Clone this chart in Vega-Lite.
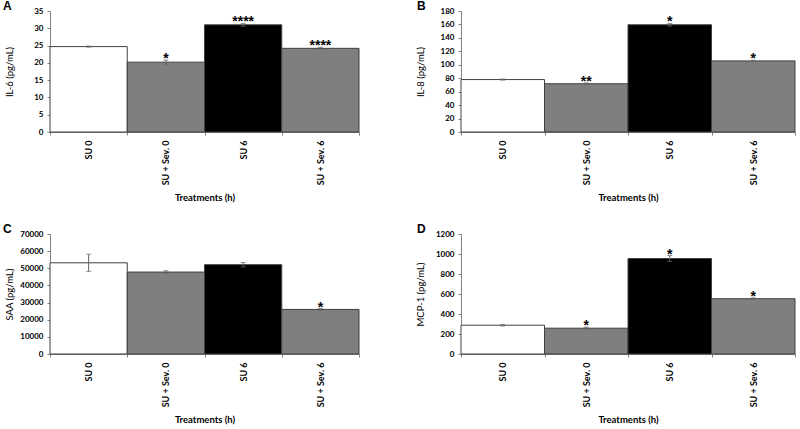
{
  "$schema": "https://vega.github.io/schema/vega-lite/v6.json",
  "padding": {"left": 3, "top": 0, "right": 0, "bottom": 0},
  "background": "white",
  "config": {
    "font": "Lato",
    "view": {"stroke": null},
    "axis": {
      "grid": false,
      "labelFont": "Lato",
      "labelFontWeight": "bold",
      "labelColor": "#000000",
      "labelOverlap": false,
      "titleFont": "Lato",
      "titleColor": "#000000",
      "domainColor": "#808080",
      "tickColor": "#808080",
      "tickSize": 3
    },
    "axisX": {
      "labelAngle": 270,
      "labelFontSize": 9,
      "labelPadding": 5,
      "tickBand": "extent",
      "titleFontWeight": "bold",
      "titleFontSize": 9.5,
      "titlePadding": 8
    },
    "axisY": {
      "labelFontSize": 8,
      "labelPadding": 4,
      "titleFontWeight": "normal",
      "titleFontSize": 9.5,
      "titlePadding": 6,
      "minExtent": 30,
      "maxExtent": 30
    },
    "title": {"font": "Liberation Sans", "fontSize": 12, "fontWeight": "bold", "anchor": "start", "frame": "group", "color": "#000000"}
  },
  "data": {
    "values": [
      {"panel": "A", "treatment": "SU 0", "value": 24.7, "lo": 24.55, "hi": 24.85, "star": ""},
      {"panel": "A", "treatment": "SU + Sev. 0", "value": 20.2, "lo": 19.6, "hi": 20.8, "star": "*"},
      {"panel": "A", "treatment": "SU 6", "value": 31.0, "lo": 30.6, "hi": 31.4, "star": "****"},
      {"panel": "A", "treatment": "SU + Sev. 6", "value": 24.2, "lo": 23.9, "hi": 24.5, "star": "****"},
      {"panel": "B", "treatment": "SU 0", "value": 78.0, "lo": 77.2, "hi": 78.8, "star": ""},
      {"panel": "B", "treatment": "SU + Sev. 0", "value": 71.8, "lo": 70.6, "hi": 73.0, "star": "**"},
      {"panel": "B", "treatment": "SU 6", "value": 159.5, "lo": 157.5, "hi": 161.5, "star": "*"},
      {"panel": "B", "treatment": "SU + Sev. 6", "value": 105.8, "lo": 104.8, "hi": 106.8, "star": "*"},
      {"panel": "C", "treatment": "SU 0", "value": 53200, "lo": 48200, "hi": 58200, "star": ""},
      {"panel": "C", "treatment": "SU + Sev. 0", "value": 47800, "lo": 47000, "hi": 48600, "star": ""},
      {"panel": "C", "treatment": "SU 6", "value": 52100, "lo": 50800, "hi": 53400, "star": ""},
      {"panel": "C", "treatment": "SU + Sev. 6", "value": 26000, "lo": 25500, "hi": 26500, "star": "*"},
      {"panel": "D", "treatment": "SU 0", "value": 288, "lo": 280, "hi": 296, "star": ""},
      {"panel": "D", "treatment": "SU + Sev. 0", "value": 258, "lo": 248, "hi": 268, "star": "*"},
      {"panel": "D", "treatment": "SU 6", "value": 955, "lo": 925, "hi": 985, "star": "*"},
      {"panel": "D", "treatment": "SU + Sev. 6", "value": 553, "lo": 545, "hi": 561, "star": "*"}
    ]
  },
  "columns": 2,
  "align": "each",
  "spacing": {"row": 20, "column": 55},
  "concat": [
    {
      "title": {"text": "A", "dx": -47, "offset": -6},
      "width": 309, "height": 121,
      "transform": [{"filter": "datum.panel === 'A'"}],
      "encoding": {
        "x": {"field": "treatment", "type": "nominal", "sort": ["SU 0", "SU + Sev. 0", "SU 6", "SU + Sev. 6"], "scale": {"paddingInner": 0, "paddingOuter": 0}, "title": "Treatments (h)"}
      },
      "layer": [
        {"mark": {"type": "bar", "stroke": "#404040", "strokeWidth": 1},
         "encoding": {
           "y": {"field": "value", "type": "quantitative", "title": "IL-6 (pg/mL)", "scale": {"domain": [0, 35], "nice": false}, "axis": {"values": [0, 5, 10, 15, 20, 25, 30, 35]}},
           "fill": {"field": "treatment", "type": "nominal", "scale": {"domain": ["SU 0", "SU + Sev. 0", "SU 6", "SU + Sev. 6"], "range": ["#ffffff", "#7f7f7f", "#000000", "#7f7f7f"]}, "legend": null}
         }},
        {"mark": {"type": "rule", "color": "#666666", "strokeWidth": 1},
         "encoding": {"y": {"field": "lo", "type": "quantitative", "title": "IL-6 (pg/mL)", "scale": {"domain": [0, 35], "nice": false}, "axis": {"values": [0, 5, 10, 15, 20, 25, 30, 35]}}, "y2": {"field": "hi"}}},
        {"mark": {"type": "tick", "color": "#666666", "size": 5, "thickness": 1},
         "encoding": {"y": {"field": "lo", "type": "quantitative", "title": "IL-6 (pg/mL)", "scale": {"domain": [0, 35], "nice": false}, "axis": {"values": [0, 5, 10, 15, 20, 25, 30, 35]}}}},
        {"mark": {"type": "tick", "color": "#666666", "size": 5, "thickness": 1},
         "encoding": {"y": {"field": "hi", "type": "quantitative", "title": "IL-6 (pg/mL)", "scale": {"domain": [0, 35], "nice": false}, "axis": {"values": [0, 5, 10, 15, 20, 25, 30, 35]}}}},
        {"mark": {"type": "text", "font": "Liberation Sans", "fontWeight": "bold", "fontSize": 14, "baseline": "alphabetic", "dy": 3, "color": "#000000"},
         "encoding": {"y": {"field": "hi", "type": "quantitative", "title": "IL-6 (pg/mL)", "scale": {"domain": [0, 35], "nice": false}, "axis": {"values": [0, 5, 10, 15, 20, 25, 30, 35]}}, "text": {"field": "star"}}}
      ]
    },
    {
      "title": {"text": "B", "dx": -44, "offset": -6},
      "width": 334, "height": 121,
      "transform": [{"filter": "datum.panel === 'B'"}],
      "encoding": {
        "x": {"field": "treatment", "type": "nominal", "sort": ["SU 0", "SU + Sev. 0", "SU 6", "SU + Sev. 6"], "scale": {"paddingInner": 0, "paddingOuter": 0}, "title": "Treatments (h)"}
      },
      "layer": [
        {"mark": {"type": "bar", "stroke": "#404040", "strokeWidth": 1},
         "encoding": {
           "y": {"field": "value", "type": "quantitative", "title": "IL-8 (pg/mL)", "scale": {"domain": [0, 180], "nice": false}, "axis": {"values": [0, 20, 40, 60, 80, 100, 120, 140, 160, 180]}},
           "fill": {"field": "treatment", "type": "nominal", "scale": {"domain": ["SU 0", "SU + Sev. 0", "SU 6", "SU + Sev. 6"], "range": ["#ffffff", "#7f7f7f", "#000000", "#7f7f7f"]}, "legend": null}
         }},
        {"mark": {"type": "rule", "color": "#666666", "strokeWidth": 1},
         "encoding": {"y": {"field": "lo", "type": "quantitative", "title": "IL-8 (pg/mL)", "scale": {"domain": [0, 180], "nice": false}, "axis": {"values": [0, 20, 40, 60, 80, 100, 120, 140, 160, 180]}}, "y2": {"field": "hi"}}},
        {"mark": {"type": "tick", "color": "#666666", "size": 5, "thickness": 1},
         "encoding": {"y": {"field": "lo", "type": "quantitative", "title": "IL-8 (pg/mL)", "scale": {"domain": [0, 180], "nice": false}, "axis": {"values": [0, 20, 40, 60, 80, 100, 120, 140, 160, 180]}}}},
        {"mark": {"type": "tick", "color": "#666666", "size": 5, "thickness": 1},
         "encoding": {"y": {"field": "hi", "type": "quantitative", "title": "IL-8 (pg/mL)", "scale": {"domain": [0, 180], "nice": false}, "axis": {"values": [0, 20, 40, 60, 80, 100, 120, 140, 160, 180]}}}},
        {"mark": {"type": "text", "font": "Liberation Sans", "fontWeight": "bold", "fontSize": 14, "baseline": "alphabetic", "dy": 3, "color": "#000000"},
         "encoding": {"y": {"field": "hi", "type": "quantitative", "title": "IL-8 (pg/mL)", "scale": {"domain": [0, 180], "nice": false}, "axis": {"values": [0, 20, 40, 60, 80, 100, 120, 140, 160, 180]}}, "text": {"field": "star"}}}
      ]
    },
    {
      "title": {"text": "C", "dx": -47, "offset": -6},
      "width": 309, "height": 120,
      "transform": [{"filter": "datum.panel === 'C'"}],
      "encoding": {
        "x": {"field": "treatment", "type": "nominal", "sort": ["SU 0", "SU + Sev. 0", "SU 6", "SU + Sev. 6"], "scale": {"paddingInner": 0, "paddingOuter": 0}, "title": "Treatments (h)"}
      },
      "layer": [
        {"mark": {"type": "bar", "stroke": "#404040", "strokeWidth": 1},
         "encoding": {
           "y": {"field": "value", "type": "quantitative", "title": "SAA (pg/mL)", "scale": {"domain": [0, 70000], "nice": false}, "axis": {"values": [0, 10000, 20000, 30000, 40000, 50000, 60000, 70000], "format": "d"}},
           "fill": {"field": "treatment", "type": "nominal", "scale": {"domain": ["SU 0", "SU + Sev. 0", "SU 6", "SU + Sev. 6"], "range": ["#ffffff", "#7f7f7f", "#000000", "#7f7f7f"]}, "legend": null}
         }},
        {"mark": {"type": "rule", "color": "#666666", "strokeWidth": 1},
         "encoding": {"y": {"field": "lo", "type": "quantitative", "title": "SAA (pg/mL)", "scale": {"domain": [0, 70000], "nice": false}, "axis": {"values": [0, 10000, 20000, 30000, 40000, 50000, 60000, 70000], "format": "d"}}, "y2": {"field": "hi"}}},
        {"mark": {"type": "tick", "color": "#666666", "size": 5, "thickness": 1},
         "encoding": {"y": {"field": "lo", "type": "quantitative", "title": "SAA (pg/mL)", "scale": {"domain": [0, 70000], "nice": false}, "axis": {"values": [0, 10000, 20000, 30000, 40000, 50000, 60000, 70000], "format": "d"}}}},
        {"mark": {"type": "tick", "color": "#666666", "size": 5, "thickness": 1},
         "encoding": {"y": {"field": "hi", "type": "quantitative", "title": "SAA (pg/mL)", "scale": {"domain": [0, 70000], "nice": false}, "axis": {"values": [0, 10000, 20000, 30000, 40000, 50000, 60000, 70000], "format": "d"}}}},
        {"mark": {"type": "text", "font": "Liberation Sans", "fontWeight": "bold", "fontSize": 14, "baseline": "alphabetic", "dy": 3, "color": "#000000"},
         "encoding": {"y": {"field": "hi", "type": "quantitative", "title": "SAA (pg/mL)", "scale": {"domain": [0, 70000], "nice": false}, "axis": {"values": [0, 10000, 20000, 30000, 40000, 50000, 60000, 70000], "format": "d"}}, "text": {"field": "star"}}}
      ]
    },
    {
      "title": {"text": "D", "dx": -44, "offset": -6},
      "width": 334, "height": 120,
      "transform": [{"filter": "datum.panel === 'D'"}],
      "encoding": {
        "x": {"field": "treatment", "type": "nominal", "sort": ["SU 0", "SU + Sev. 0", "SU 6", "SU + Sev. 6"], "scale": {"paddingInner": 0, "paddingOuter": 0}, "title": "Treatments (h)"}
      },
      "layer": [
        {"mark": {"type": "bar", "stroke": "#404040", "strokeWidth": 1},
         "encoding": {
           "y": {"field": "value", "type": "quantitative", "title": "MCP-1 (pg/mL)", "scale": {"domain": [0, 1200], "nice": false}, "axis": {"values": [0, 200, 400, 600, 800, 1000, 1200], "format": "d"}},
           "fill": {"field": "treatment", "type": "nominal", "scale": {"domain": ["SU 0", "SU + Sev. 0", "SU 6", "SU + Sev. 6"], "range": ["#ffffff", "#7f7f7f", "#000000", "#7f7f7f"]}, "legend": null}
         }},
        {"mark": {"type": "rule", "color": "#666666", "strokeWidth": 1},
         "encoding": {"y": {"field": "lo", "type": "quantitative", "title": "MCP-1 (pg/mL)", "scale": {"domain": [0, 1200], "nice": false}, "axis": {"values": [0, 200, 400, 600, 800, 1000, 1200], "format": "d"}}, "y2": {"field": "hi"}}},
        {"mark": {"type": "tick", "color": "#666666", "size": 5, "thickness": 1},
         "encoding": {"y": {"field": "lo", "type": "quantitative", "title": "MCP-1 (pg/mL)", "scale": {"domain": [0, 1200], "nice": false}, "axis": {"values": [0, 200, 400, 600, 800, 1000, 1200], "format": "d"}}}},
        {"mark": {"type": "tick", "color": "#666666", "size": 5, "thickness": 1},
         "encoding": {"y": {"field": "hi", "type": "quantitative", "title": "MCP-1 (pg/mL)", "scale": {"domain": [0, 1200], "nice": false}, "axis": {"values": [0, 200, 400, 600, 800, 1000, 1200], "format": "d"}}}},
        {"mark": {"type": "text", "font": "Liberation Sans", "fontWeight": "bold", "fontSize": 14, "baseline": "alphabetic", "dy": 3, "color": "#000000"},
         "encoding": {"y": {"field": "hi", "type": "quantitative", "title": "MCP-1 (pg/mL)", "scale": {"domain": [0, 1200], "nice": false}, "axis": {"values": [0, 200, 400, 600, 800, 1000, 1200], "format": "d"}}, "text": {"field": "star"}}}
      ]
    }
  ]
}
